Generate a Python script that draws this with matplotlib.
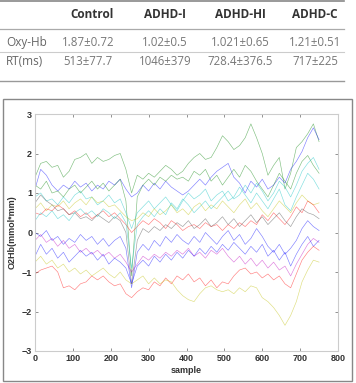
import numpy as np
import matplotlib.pyplot as plt

# table content
groups = ['Control', 'ADHD-I', 'ADHD-HI', 'ADHD-C']
row_labels = ['Oxy-Hb', 'RT(ms)']
oxy_hb = ['1.87\u00b10.72', '1.02\u00b10.5', '1.021\u00b10.65', '1.21\u00b10.51']
rt_ms = ['513\u00b177.7', '1046\u00b1379', '728.4\u00b1376.5', '717\u00b1225']

# traces, read every 15 samples (0 .. 750)
samples = np.arange(0, 751, 15)

green_top = [1.4, 1.75, 1.8, 1.65, 1.7, 1.4, 1.55, 1.85, 1.9, 2.0,
             1.75, 1.9, 1.8, 1.85, 1.95, 2.0, 1.6, 1.0, 1.45, 1.35,
             1.5, 1.4, 1.55, 1.7, 1.6, 1.45, 1.55, 1.75, 1.9, 2.0,
             1.85, 1.9, 2.15, 2.45, 2.3, 2.1, 2.2, 2.4, 2.75, 2.4,
             2.0, 1.45, 1.7, 1.9, 1.1, 1.5, 2.15, 2.3, 2.5, 2.75,
             2.3]
blue_top = [1.1, 1.6, 1.45, 1.2, 1.05, 1.2, 1.1, 1.3, 1.15, 1.25,
            1.05, 1.2, 1.1, 1.3, 1.2, 1.35, 1.1, 0.9, 1.0, 1.2,
            1.05, 1.25, 1.1, 1.3, 1.15, 1.05, 0.95, 1.05, 1.2, 1.35,
            1.2, 1.4, 1.55, 1.65, 1.75, 1.4, 1.25, 1.0, 1.3, 1.15,
            1.35, 1.1, 1.2, 1.4, 1.25, 1.6, 1.8, 2.05, 2.4, 2.65,
            2.35]
green_mid = [1.2, 1.1, 1.3, 1.0, 1.05, 0.9, 1.1, 1.2, 1.0, 1.15,
             1.3, 1.1, 1.25, 1.05, 1.2, 1.35, 0.8, -1.1, 0.9, 1.2,
             1.35, 1.2, 1.4, 1.3, 1.45, 1.35, 1.4, 1.3, 1.55, 1.45,
             1.6, 1.3, 1.45, 1.2, 1.4, 1.6, 1.4, 1.7, 1.55, 1.3,
             1.1, 0.9, 1.2, 1.5, 1.3, 1.1, 1.5, 1.8, 1.95, 1.7,
             1.5]
cyan_top = [0.9, 1.0, 0.8, 0.85, 0.7, 0.9, 0.75, 0.95, 1.05, 0.85,
            0.9, 0.7, 0.8, 0.95, 0.75, 0.85, 0.5, 0.1, 0.5, 0.65,
            0.8, 0.6, 0.75, 0.9, 0.7, 0.55, 0.8, 1.0, 0.85, 0.95,
            1.1, 0.8, 0.95, 1.05, 0.8, 0.9, 1.15, 0.95, 0.75, 1.0,
            0.8, 0.6, 0.85, 1.1, 0.7, 0.55, 0.9, 1.2, 1.5, 1.35,
            1.1]
yellow_top = [0.6, 0.75, 0.55, 0.7, 0.65, 0.8, 0.6, 0.75, 0.85, 0.7,
              0.9, 0.75, 0.8, 0.65, 0.7, 0.55, 0.4, 0.3, 0.35, 0.5,
              0.4, 0.6, 0.45, 0.55, 0.7, 0.5, 0.6, 0.45, 0.65, 0.75,
              0.55, 0.7, 0.6, 0.8, 0.65, 0.5, 0.7, 0.85, 0.6, 0.75,
              0.55, 0.4, 0.6, 0.8, 0.65, 0.5, 0.75, 0.95, 0.8, 0.7,
              0.75]
red_top = [0.5, 0.45, 0.6, 0.55, 0.7, 0.6, 0.45, 0.55, 0.4, 0.5,
           0.35, 0.45, 0.55, 0.4, 0.5, 0.35, 0.2, 0.0, 0.15, 0.3,
           0.2, 0.35, 0.25, 0.1, 0.3, 0.2, 0.05, 0.15, 0.2, 0.1,
           0.25, 0.15, 0.2, 0.05, 0.2, 0.1, 0.25, 0.15, 0.3, 0.2,
           0.45, 0.3, 0.5, 0.35, 0.2, 0.4, 0.65, 0.5, 0.8, 0.7,
           0.5]
gray_mid = [0.75, 0.95, 0.8, 0.7, 0.55, 0.6, 0.45, 0.5, 0.35, 0.4,
            0.3, 0.45, 0.35, 0.25, 0.4, 0.3, 0.0, -1.3, -0.2, 0.1,
            0.0, 0.15, 0.05, 0.2, 0.1, 0.25, 0.15, 0.3, 0.1, 0.2,
            0.35, 0.15, 0.25, 0.4, 0.2, 0.35, 0.15, 0.3, 0.45, 0.25,
            0.4, 0.2, 0.35, 0.5, 0.3, 0.15, 0.4, 0.6, 0.5, 0.45,
            0.35]
magenta_mid = [-0.2, -0.05, -0.25, -0.15, -0.35, -0.2, -0.4, -0.3, -0.5, -0.4,
               -0.55, -0.45, -0.6, -0.5, -0.65, -0.55, -0.75, -1.0, -0.8, -0.6,
               -0.7, -0.55, -0.65, -0.5, -0.6, -0.45, -0.55, -0.4, -0.6, -0.5,
               -0.65, -0.45, -0.55, -0.4, -0.6, -0.75, -0.6, -0.8, -0.65, -0.85,
               -0.7, -0.9, -0.75, -0.95, -0.85, -1.1, -0.8, -0.55, -0.3, -0.15,
               -0.25]
blue_mid = [0.0, -0.1, 0.05, -0.2, -0.1, -0.3, -0.15, -0.25, -0.05, -0.2,
            -0.1, -0.3, -0.15, -0.35, -0.2, -0.1, -0.4, -1.4, -0.5, -0.3,
            -0.45, -0.2, -0.35, -0.1, -0.25, -0.05, -0.2, -0.3, -0.1, -0.25,
            0.0, -0.15, -0.3, -0.1, 0.05, -0.2, -0.05, -0.3, -0.15, 0.1,
            -0.1, -0.35, -0.5, -0.3, -0.55, -0.4, -0.2, 0.1, 0.3, 0.15,
            0.05]
blue_low = [-0.6, -0.3, -0.55, -0.4, -0.65, -0.5, -0.75, -0.6, -0.45, -0.6,
            -0.5, -0.7, -0.55, -0.8, -0.65, -0.75, -0.9, -1.3, -0.85, -0.7,
            -0.85, -0.6, -0.75, -0.55, -0.7, -0.5, -0.65, -0.45, -0.6, -0.4,
            -0.55, -0.35, -0.5, -0.3, -0.45, -0.25, -0.4, -0.55, -0.35, -0.5,
            -0.3, -0.6, -0.45, -0.7, -0.5, -0.85, -0.55, -0.3, -0.1, -0.35,
            -0.2]
red_low = [-1.05, -0.95, -0.9, -0.85, -1.0, -1.4, -1.35, -1.45, -1.3, -1.25,
           -1.1, -1.2, -1.1, -1.25, -1.35, -1.3, -1.55, -1.65, -1.5, -1.4,
           -1.45, -1.25, -1.35, -1.15, -1.3, -1.1, -1.2, -1.05, -1.25, -1.15,
           -1.35, -1.2, -1.4, -1.25, -1.3, -1.1, -0.95, -0.9, -1.05, -1.0,
           -1.15, -1.05, -1.2, -1.1, -1.3, -1.4, -1.05, -0.7, -0.5, -0.35,
           -0.45]
yellow_low = [-0.75, -0.6, -0.8, -0.7, -0.9, -0.8, -1.0, -0.9, -1.05, -0.95,
              -1.1, -1.0, -0.9, -1.05, -1.15, -1.0, -1.2, -1.3, -1.2, -1.1,
              -1.3, -1.15, -1.3, -1.2, -1.25, -1.45, -1.6, -1.7, -1.75, -1.55,
              -1.4, -1.35, -1.45, -1.5, -1.45, -1.55, -1.4, -1.5, -1.35, -1.4,
              -1.65, -1.75, -1.9, -2.1, -2.35, -2.1, -1.75, -1.25, -0.95, -0.7,
              -0.75]
cyan_low = [0.3, 0.5, 0.4, 0.55, 0.35, 0.45, 0.3, 0.5, 0.6, 0.45,
            0.55, 0.4, 0.6, 0.5, 0.35, 0.5, 0.25, -0.9, 0.2, 0.4,
            0.55, 0.4, 0.6, 0.45, 0.75, 0.6, 0.85, 0.7, 0.5, 0.65,
            0.8, 0.6, 0.75, 0.9, 1.05, 0.85, 0.95, 1.2, 1.0, 1.25,
            1.05, 0.8, 1.0, 1.3, 1.15, 0.9, 1.2, 1.55, 1.75, 1.9,
            1.6]

traces = [
    (green_top, (0, 0.5, 0)),
    (blue_top, (0, 0, 1)),
    (green_mid, (0, 0.5, 0)),
    (cyan_top, (0, 0.75, 0.75)),
    (yellow_top, (0.75, 0.75, 0)),
    (red_top, (1, 0, 0)),
    (gray_mid, (0.25, 0.25, 0.25)),
    (magenta_mid, (0.75, 0, 0.75)),
    (blue_mid, (0, 0, 1)),
    (blue_low, (0, 0, 1)),
    (red_low, (1, 0, 0)),
    (yellow_low, (0.75, 0.75, 0)),
    (cyan_low, (0, 0.75, 0.75)),
]

W, H = 356, 383
fig = plt.figure(figsize=(W / 100, H / 100), dpi=100)

# background canvas in pixel coordinates for the table and frame
bg = fig.add_axes([0, 0, 1, 1])
bg.set_xlim(0, W)
bg.set_ylim(H, 0)
bg.axis('off')

font = ['Open Sans', 'DejaVu Sans']
col_x = [92, 165, 240, 315]
bg.plot([0, 344], [1, 1], color='#888888', lw=1.2)
bg.plot([0, 344], [29, 29], color='#aaaaaa', lw=0.9)
bg.plot([0, 344], [52, 52], color='#cccccc', lw=0.8)
bg.plot([0, 344], [81, 81], color='#999999', lw=1.0)
for x, g in zip(col_x, groups):
    bg.text(x, 15, g, ha='center', va='center', fontsize=8.5, fontweight='bold',
            color='#333333', family=font)
for y, lab, vals in zip([42.5, 61.5], row_labels, [oxy_hb, rt_ms]):
    bg.text(6, y, lab, ha='left', va='center', fontsize=8.5, color='#666666', family=font)
    for x, v in zip(col_x, vals):
        bg.text(x - 4 if x == col_x[0] else x, y, v, ha='center', va='center',
                fontsize=8.3, color='#777777', family=font)

# frame around the plot
bg.add_patch(plt.Rectangle((3, 99), 349, 282, fill=False, ec='#888888', lw=1.0))

# the plot
ax = fig.add_axes([35 / W, 1 - 351 / H, 303 / W, 237 / H])
for vals, c in traces:
    ax.plot(samples, vals, color=c, lw=0.45, alpha=0.5)

ax.set_xlim(0, 800)
ax.set_ylim(-3, 3)
ax.set_xticks(np.arange(0, 801, 100))
ax.set_yticks(np.arange(-3, 4, 1))
ax.tick_params(direction='in', length=2, width=0.5, color='#666666',
               top=True, right=True, labelsize=6.5, labelcolor='#333333', pad=2)
for lab in ax.get_xticklabels() + ax.get_yticklabels():
    lab.set_fontweight('bold')
    lab.set_family(['Liberation Sans', 'DejaVu Sans'])
for s in ax.spines.values():
    s.set_color('#cccccc')
    s.set_linewidth(0.8)
ax.set_xlabel('sample', fontsize=6.5, fontweight='bold', color='#333333',
              family=['Liberation Sans', 'DejaVu Sans'], labelpad=2)
ax.set_ylabel('O2Hb(mmol*mm)', fontsize=6.5, fontweight='bold', color='#333333',
              family=['Liberation Sans', 'DejaVu Sans'], labelpad=4)

fig.savefig('out.png', dpi=100)
